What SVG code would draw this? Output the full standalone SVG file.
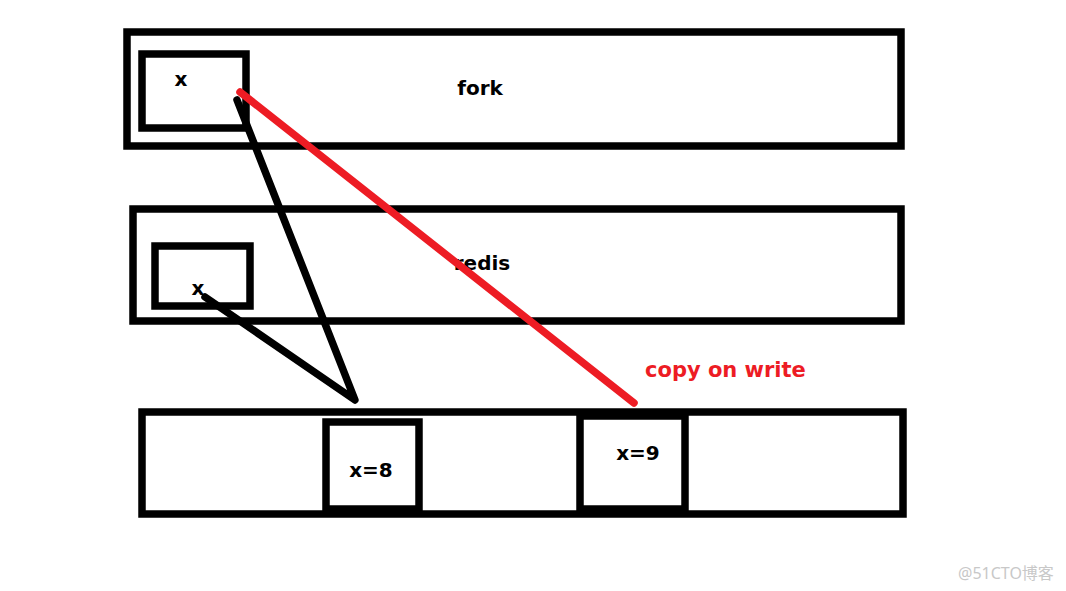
<svg xmlns="http://www.w3.org/2000/svg" width="1066" height="591" viewBox="0 0 1066 591">
<style>
.box{fill:none;stroke:#000;stroke-width:7.5}
.lbl{font-family:"DejaVu Sans","Open Sans",sans-serif;font-weight:bold;fill:#000}
.blk{fill:none;stroke:#000;stroke-width:7.5;stroke-linecap:round;stroke-linejoin:round}
.red{fill:none;stroke:#ed1c24;stroke-width:7.5;stroke-linecap:round}
</style>
<rect width="1066" height="591" fill="#fff"/>
<g id="fork">
<rect class="box" x="127" y="32" width="774" height="114"/>
<rect class="box" x="142" y="54" width="104" height="74"/>
<text class="lbl" x="181" y="86" font-size="20" text-anchor="middle">x</text>
<text class="lbl" x="480" y="95" font-size="20" text-anchor="middle">fork</text>
</g>
<g id="redis">
<rect class="box" x="133" y="209" width="768" height="112"/>
<rect class="box" x="155" y="246" width="95" height="60"/>
<text class="lbl" x="198" y="295" font-size="20" text-anchor="middle">x</text>
<text class="lbl" x="482" y="270" font-size="20" text-anchor="middle">redis</text>
</g>
<g id="memory">
<rect class="box" x="142" y="412" width="761" height="102"/>
<rect class="box" x="326" y="422" width="93" height="87"/>
<rect class="box" x="580" y="416" width="105" height="93"/>
<text class="lbl" x="371" y="477" font-size="20" text-anchor="middle">x=8</text>
<text class="lbl" x="638" y="460" font-size="20" text-anchor="middle">x=9</text>
</g>
<g id="connectors">
<polyline class="blk" points="205,297 355,400 237,100"/>
<line class="red" x1="240" y1="92" x2="634" y2="403"/>
</g>
<text class="lbl" x="645" y="377" font-size="21" style="fill:#ed1c24">copy on write</text>
<text x="958" y="579" font-family="'Noto Sans','Noto Sans CJK SC',sans-serif" font-size="16" fill="#c8c8c8">@51CTO博客</text>
</svg>
